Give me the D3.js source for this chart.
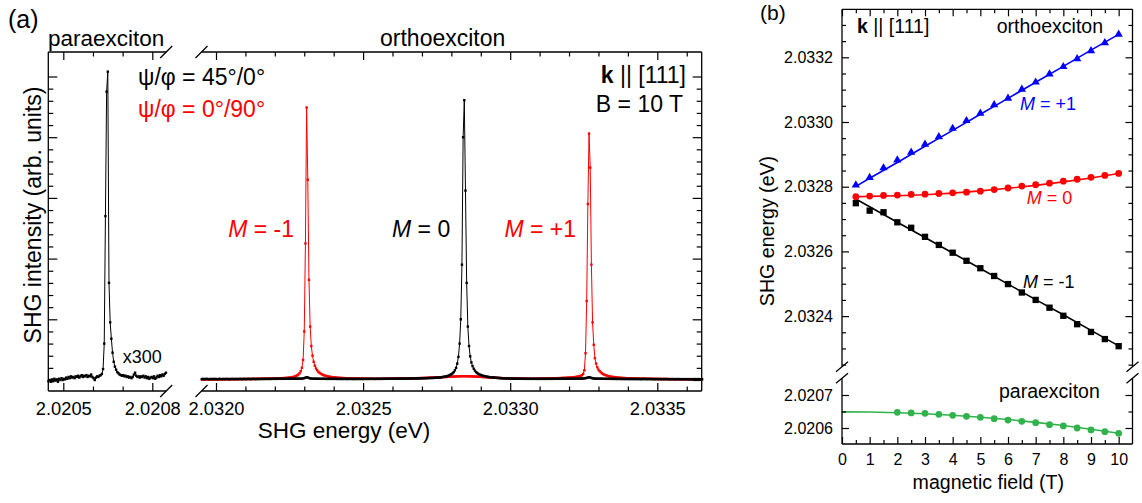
<!DOCTYPE html>
<html>
<head>
<meta charset="utf-8">
<script src="https://cdn.jsdelivr.net/npm/d3@7"></script>
<style>
  html, body { margin: 0; padding: 0; background: #fff; }
  svg { display: block; }
  text { font-family: "Liberation Sans", Arial, Helvetica, sans-serif; }
</style>
</head>
<body>
<svg id="fig" width="1142" height="503"></svg>
<script>
// ---------------- (a) SHG spectra at B = 10 T ----------------
// Orthoexciton spectra, sampled on a uniform energy grid (eV)
const orthoStartEV = 2.031952;
const orthoStepEV = 0.000004;
// psi/phi = 45°/0° (black)
const orthoSpec45 = [
  0.015,0.018,0.014,0.016,0.019,0.015,0.013,0.017,0.016,0.014,
  0.018,0.015,0.017,0.013,0.016,0.019,0.015,0.014,0.017,0.016,
  0.015,0.018,0.016,0.014,0.017,0.015,0.019,0.016,0.014,0.017,
  0.016,0.015,0.018,0.017,0.014,0.016,0.019,0.015,0.017,0.016,
  0.018,0.016,0.015,0.017,0.019,0.016,0.015,0.018,0.017,0.016,
  0.017,0.019,0.016,0.018,0.017,0.019,0.018,0.017,0.019,0.018,
  0.018,0.02,0.019,0.018,0.02,0.019,0.021,0.02,0.019,0.021,
  0.02,0.021,0.02,0.022,0.021,0.02,0.022,0.021,0.022,0.021,
  0.022,0.021,0.022,0.023,0.022,0.024,0.026,0.031,0.038,0.045,
  0.041,0.033,0.027,0.024,0.022,0.021,0.022,0.021,0.02,0.021,
  0.02,0.019,0.021,0.02,0.019,0.02,0.018,0.019,0.02,0.018,
  0.019,0.018,0.02,0.019,0.018,0.017,0.019,0.018,0.017,0.018,
  0.017,0.019,0.018,0.016,0.018,0.017,0.019,0.018,0.016,0.017,
  0.018,0.016,0.017,0.019,0.017,0.018,0.016,0.018,0.017,0.019,
  0.018,0.017,0.019,0.018,0.02,0.018,0.019,0.017,0.019,0.018,
  0.02,0.019,0.018,0.02,0.019,0.021,0.019,0.02,0.021,0.02,
  0.021,0.02,0.022,0.021,0.02,0.022,0.021,0.023,0.022,0.021,
  0.023,0.022,0.024,0.023,0.022,0.024,0.025,0.024,0.025,0.026,
  0.025,0.026,0.027,0.026,0.028,0.027,0.029,0.028,0.03,0.029,
  0.031,0.03,0.032,0.031,0.033,0.034,0.033,0.035,0.036,0.037,
  0.039,0.04,0.042,0.044,0.047,0.05,0.053,0.057,0.062,0.068,
  0.075,0.085,0.095,0.11,0.13,0.16,0.2,0.27,0.38,0.6,
  1.0,1.9,4.0,4.61,3.12,1.6,0.88,0.56,0.39,0.29,
  0.23,0.185,0.155,0.13,0.115,0.1,0.09,0.082,0.075,0.069,
  0.064,0.06,0.056,0.052,0.049,0.046,0.044,0.042,0.04,0.038,
  0.036,0.035,0.033,0.032,0.031,0.03,0.029,0.028,0.027,0.026,
  0.025,0.025,0.024,0.023,0.023,0.022,0.022,0.021,0.021,0.021,
  0.02,0.021,0.02,0.019,0.02,0.019,0.02,0.018,0.019,0.02,
  0.019,0.018,0.02,0.019,0.018,0.019,0.02,0.018,0.019,0.018,
  0.02,0.019,0.018,0.019,0.02,0.019,0.018,0.02,0.019,0.02,
  0.019,0.02,0.021,0.02,0.019,0.021,0.02,0.021,0.02,0.022,
  0.021,0.02,0.022,0.021,0.022,0.021,0.022,0.023,0.022,0.023,
  0.022,0.023,0.024,0.023,0.025,0.027,0.03,0.035,0.041,0.046,
  0.042,0.034,0.028,0.025,0.023,0.022,0.023,0.022,0.021,0.022,
  0.021,0.02,0.021,0.02,0.019,0.02,0.019,0.02,0.018,0.019,
  0.018,0.019,0.017,0.018,0.019,0.017,0.018,0.016,0.018,0.017,
  0.016,0.018,0.017,0.015,0.017,0.016,0.018,0.015,0.017,0.016,
  0.015,0.017,0.016,0.014,0.016,0.015,0.017,0.016,0.014,0.016,
  0.015,0.017,0.014,0.016,0.015,0.013,0.016,0.015,0.014,0.016,
  0.015,0.013,0.016,0.014,0.015,0.016,0.014,0.013,0.015,0.014,
  0.016,0.014,0.013,0.015,0.014,0.016,0.013,0.015,0.014,0.013,
  0.015,0.014,0.013,0.015,0.014,0.012,0.015,0.013,0.014,0.015,
  0.013,0.014,0.015,0.013,0.014,0.013
];
// psi/phi = 0°/90° (red)
const orthoSpec090 = [
  0.008,0.01,0.009,0.011,0.01,0.009,0.011,0.01,0.012,0.01,
  0.011,0.01,0.012,0.011,0.01,0.012,0.011,0.013,0.012,0.011,
  0.013,0.012,0.013,0.012,0.014,0.013,0.012,0.014,0.013,0.015,
  0.014,0.013,0.015,0.014,0.016,0.015,0.014,0.016,0.015,0.017,
  0.016,0.017,0.016,0.018,0.017,0.018,0.019,0.018,0.019,0.02,
  0.019,0.02,0.021,0.02,0.021,0.022,0.021,0.022,0.023,0.023,
  0.024,0.024,0.025,0.026,0.026,0.027,0.028,0.029,0.03,0.031,
  0.032,0.033,0.035,0.036,0.038,0.04,0.043,0.047,0.052,0.058,
  0.066,0.076,0.09,0.11,0.145,0.2,0.33,0.8,2.25,4.49,
  3.3,1.65,0.88,0.56,0.4,0.3,0.235,0.19,0.16,0.135,
  0.118,0.104,0.093,0.084,0.076,0.07,0.064,0.059,0.055,0.052,
  0.049,0.046,0.044,0.042,0.04,0.038,0.036,0.035,0.034,0.033,
  0.032,0.031,0.03,0.029,0.028,0.028,0.027,0.026,0.026,0.025,
  0.025,0.024,0.024,0.023,0.023,0.022,0.022,0.022,0.021,0.021,
  0.021,0.02,0.021,0.02,0.02,0.019,0.02,0.019,0.02,0.019,
  0.019,0.02,0.019,0.02,0.019,0.02,0.021,0.02,0.021,0.02,
  0.021,0.022,0.021,0.022,0.022,0.023,0.022,0.023,0.024,0.023,
  0.024,0.024,0.025,0.025,0.026,0.026,0.027,0.027,0.028,0.028,
  0.029,0.029,0.03,0.03,0.031,0.031,0.032,0.033,0.033,0.034,
  0.035,0.035,0.036,0.037,0.038,0.038,0.039,0.04,0.041,0.042,
  0.043,0.044,0.045,0.046,0.047,0.048,0.049,0.05,0.051,0.052,
  0.053,0.054,0.055,0.056,0.057,0.058,0.059,0.06,0.06,0.061,
  0.062,0.062,0.063,0.063,0.063,0.062,0.062,0.061,0.06,0.06,
  0.059,0.058,0.057,0.056,0.055,0.054,0.053,0.052,0.05,0.049,
  0.048,0.047,0.045,0.044,0.043,0.042,0.04,0.039,0.038,0.037,
  0.036,0.035,0.034,0.033,0.032,0.031,0.03,0.03,0.029,0.028,
  0.028,0.027,0.026,0.026,0.025,0.025,0.024,0.024,0.023,0.023,
  0.023,0.022,0.022,0.022,0.021,0.021,0.021,0.021,0.02,0.02,
  0.02,0.021,0.02,0.021,0.021,0.022,0.021,0.022,0.022,0.023,
  0.023,0.023,0.024,0.024,0.025,0.025,0.026,0.026,0.027,0.028,
  0.028,0.029,0.03,0.031,0.031,0.032,0.033,0.034,0.035,0.036,
  0.037,0.038,0.039,0.041,0.042,0.044,0.046,0.048,0.051,0.054,
  0.058,0.063,0.07,0.08,0.1,0.16,0.44,1.3,2.9,4.06,
  3.5,1.9,0.95,0.58,0.36,0.27,0.21,0.17,0.145,0.125,
  0.11,0.098,0.088,0.08,0.073,0.067,0.062,0.058,0.054,0.051,
  0.048,0.046,0.043,0.041,0.039,0.037,0.036,0.034,0.033,0.032,
  0.031,0.03,0.029,0.028,0.027,0.027,0.026,0.025,0.025,0.024,
  0.024,0.023,0.023,0.022,0.022,0.021,0.021,0.021,0.02,0.02,
  0.02,0.019,0.019,0.019,0.018,0.018,0.018,0.017,0.017,0.017,
  0.016,0.016,0.016,0.016,0.015,0.015,0.015,0.015,0.014,0.014,
  0.014,0.014,0.014,0.013,0.013,0.013,0.013,0.013,0.012,0.012,
  0.012,0.012,0.012,0.012,0.011,0.011,0.011,0.011,0.011,0.011,
  0.011,0.01,0.01,0.01,0.01,0.01
];
// Paraexciton spectrum (x300), psi/phi = 45°/0°
const paraStartEV = 2.02045;
const paraStepEV = 0.000004;
const paraSpec = [
  -0.02,0.0,-0.03,0.01,-0.02,0.02,-0.01,0.01,-0.03,0.02,
  0.0,0.03,0.0,0.02,0.01,0.04,0.02,0.05,0.03,0.06,
  0.04,0.05,0.03,0.06,0.05,0.07,0.04,0.06,0.08,0.05,
  0.07,0.06,0.08,0.05,0.07,0.06,0.09,0.05,0.03,0.0,
  0.04,0.06,0.05,0.07,0.08,0.1,0.18,0.6,2.7,4.75,
  5.08,1.6,0.95,0.68,0.45,0.3,0.22,0.17,0.13,0.11,
  0.09,0.08,0.07,0.08,0.06,0.07,0.05,0.06,0.04,0.05,
  0.03,0.05,0.09,0.12,0.07,0.05,0.06,0.04,0.06,0.05,
  0.07,0.04,0.06,0.03,0.05,0.02,0.04,0.05,0.03,0.06,
  0.02,0.04,0.07,0.05,0.08,0.06,0.09,0.07,0.1,0.12
];

// tick values, panel (a)
const paraTicksMajor = [2.0205, 2.0208];
const paraTicksMinor = [2.0206, 2.0207];
const orthoTicksMajor = [2.0320, 2.0325, 2.0330, 2.0335];
const orthoTicksMinor = [2.0321, 2.0322, 2.0323, 2.0324, 2.0326, 2.0327, 2.0328, 2.0329,
                         2.0331, 2.0332, 2.0333, 2.0334, 2.0336];
const intensityTicksMajor = [0, 1, 2, 3, 4, 5];
const intensityTicksMinor = [0.2, 0.4, 0.6, 0.8, 1.2, 1.4, 1.6, 1.8, 2.2, 2.4, 2.6, 2.8,
                             3.2, 3.4, 3.6, 3.8, 4.2, 4.4, 4.6, 4.8];

// ---------------- (b) peak energies vs magnetic field ----------------
const fieldT = [0.5, 1, 1.5, 2, 2.5, 3, 3.5, 4, 4.5, 5, 5.5, 6, 6.5, 7, 7.5, 8, 8.5, 9, 9.5, 10];
const energyMplus1 = [2.032805, 2.032828, 2.032858, 2.032882, 2.032906, 2.032931, 2.032954,
  2.032980, 2.033004, 2.033027, 2.033053, 2.033073, 2.033101, 2.033123, 2.033148, 2.033171,
  2.033195, 2.033220, 2.033245, 2.033271];
const energyM0 = [2.032769, 2.032771, 2.032773, 2.032774, 2.032776, 2.032777, 2.032779,
  2.032781, 2.032783, 2.032786, 2.032791, 2.032796, 2.032802, 2.032806, 2.032811, 2.032817,
  2.032823, 2.032829, 2.032835, 2.032841];
const energyMminus1 = [2.032749, 2.032726, 2.032721, 2.032690, 2.032673, 2.032645, 2.032620,
  2.032596, 2.032571, 2.032548, 2.032524, 2.032499, 2.032473, 2.032450, 2.032426, 2.032401,
  2.032375, 2.032351, 2.032329, 2.032307];
const paraFieldT = [2, 2.5, 3, 3.5, 4, 4.5, 5, 5.5, 6, 6.5, 7, 7.5, 8, 8.5, 9, 9.5, 10];
const paraEnergy = [2.0206476, 2.0206455, 2.0206445, 2.0206415, 2.0206385, 2.0206355, 2.0206324,
  2.0206282, 2.0206242, 2.0206203, 2.0206161, 2.0206100, 2.0206061, 2.0206000, 2.0205940,
  2.0205890, 2.0205840];
// fitted curves
const fitFieldT = [0.5, 1, 2, 3, 4, 5, 6, 7, 8, 9, 10];
const fitMplus1 = [2.032801, 2.032826, 2.032875, 2.032925, 2.032974, 2.033024, 2.033073,
  2.033123, 2.033172, 2.033222, 2.033271];
const fitM0 = [2.032769, 2.032770, 2.032772, 2.032775, 2.032780, 2.032787, 2.032795,
  2.032804, 2.032815, 2.032827, 2.032841];
const fitMminus1 = [2.032762, 2.032738, 2.032690, 2.032643, 2.032595, 2.032547, 2.032499,
  2.032451, 2.032404, 2.032356, 2.032308];
const paraFitFieldT = [0, 1, 2, 3, 4, 5, 6, 7, 8, 9, 10];
const paraFit = [2.0206490, 2.0206483, 2.0206464, 2.0206432, 2.0206386, 2.0206328, 2.0206256,
  2.0206171, 2.0206074, 2.0205964, 2.0205840];

// tick values, panel (b)
const fieldTicksMajor = [0, 1, 2, 3, 4, 5, 6, 7, 8, 9, 10];
const fieldTicksMinor = [0.5, 1.5, 2.5, 3.5, 4.5, 5.5, 6.5, 7.5, 8.5, 9.5];
const orthoETicksMajor = [2.0324, 2.0326, 2.0328, 2.0330, 2.0332];
const orthoETicksMinor = [2.03225, 2.03230, 2.03235, 2.03245, 2.03250, 2.03255, 2.03265,
  2.03270, 2.03275, 2.03285, 2.03290, 2.03295, 2.03305, 2.03310, 2.03315, 2.03325, 2.03330];
const paraETicksMajor = [2.0206, 2.0207];
const paraETicksMinor = [2.02065];

// ---------------- drawing ----------------
const RED = "#ff0000", BLUE = "#0000ff", GREEN = "#2fb34a";
const FONT = '"Liberation Sans", Arial, Helvetica, sans-serif';
const svg = d3.select("#fig");

function axisTicks(g, axisFn, scale, values, size, fmt, pad, fontSize) {
  const ax = axisFn(scale).tickValues(values).tickSizeInner(size).tickSizeOuter(0)
    .tickPadding(pad || 3).tickFormat(fmt || (() => ""));
  g.call(ax);
  g.attr("font-family", FONT).attr("font-size", fontSize || 10);
  g.select(".domain").remove();
  g.selectAll(".tick line").attr("stroke", "#000").attr("stroke-width", 1.2);
  g.selectAll(".tick text").attr("fill", "#000");
}
function seg(x1, y1, x2, y2) {
  svg.append("line").attr("x1", x1).attr("y1", y1).attr("x2", x2).attr("y2", y2)
    .attr("stroke", "#000").attr("stroke-width", 1.3);
}
function label(x, y, str, opts = {}) {
  const t = svg.append("text").attr("x", x).attr("y", y)
    .attr("font-size", opts.size || 20).attr("fill", opts.color || "#000")
    .attr("text-anchor", opts.anchor || "start");
  if (str) t.text(str);
  if (opts.rotate) t.attr("transform", `rotate(${opts.rotate},${x},${y})`);
  return t;
}
function mLabel(x, y, rest, opts) {
  const t = label(x, y, "", opts);
  t.append("tspan").attr("font-style", "italic").text("M");
  t.append("tspan").text(rest);
}
function kLabel(x, y, opts) {
  const t = label(x, y, "", opts);
  t.append("tspan").attr("font-weight", "bold").text("k");
  t.append("tspan").text(" || [111]");
}

// ===== panel (a) =====
const A = { top: 52, bottom: 391, paraL: 48.3, paraR: 166.2, orthoL: 201.5, orthoR: 701.7 };
const yInt = d3.scaleLinear().domain([0, 5]).range([380, 76.5]);
const xPara = d3.scaleLinear().domain([2.0205, 2.0208]).range([63.3, 152.3]);
const xOrtho = d3.scaleLinear().domain([2.0320, 2.0335]).range([216, 657.3]);
const fmt4 = d3.format(".4f");

// spectra
function drawSpectrum(data, start, step, xs, color) {
  const pts = data.map((v, i) => [start + i * step, v]);
  const line = d3.line().x(d => xs(d[0])).y(d => yInt(d[1]));
  const g = svg.append("g");
  g.append("path").attr("d", line(pts)).attr("fill", "none").attr("stroke", color).attr("stroke-width", 1);
  g.selectAll("rect").data(pts).join("rect")
    .attr("x", d => xs(d[0]) - 1.2).attr("y", d => yInt(d[1]) - 1.2)
    .attr("width", 2.4).attr("height", 2.4).attr("fill", color);
}
drawSpectrum(orthoSpec090, orthoStartEV, orthoStepEV, xOrtho, RED);
drawSpectrum(orthoSpec45, orthoStartEV, orthoStepEV, xOrtho, "#000");
drawSpectrum(paraSpec, paraStartEV, paraStepEV, xPara, "#000");

// frame with axis breaks
seg(A.paraL, A.top, A.paraR, A.top);
seg(A.paraL, A.bottom, A.paraR, A.bottom);
seg(A.paraL, A.top, A.paraL, A.bottom);
seg(A.orthoL, A.top, A.orthoR, A.top);
seg(A.orthoL, A.bottom, A.orthoR, A.bottom);
seg(A.orthoR, A.top, A.orthoR, A.bottom);
[A.paraR, A.orthoL].forEach(x => {
  seg(x - 6, A.top + 6, x + 6, A.top - 6);
  seg(x - 6, A.bottom + 6, x + 6, A.bottom - 6);
});

// x ticks
axisTicks(svg.append("g").attr("transform", `translate(0,${A.bottom})`), d3.axisBottom, xPara, paraTicksMajor, -8, fmt4, 11.5, 18.3);
axisTicks(svg.append("g").attr("transform", `translate(0,${A.bottom})`), d3.axisBottom, xPara, paraTicksMinor, -4.5);
axisTicks(svg.append("g").attr("transform", `translate(0,${A.top})`), d3.axisTop, xPara, paraTicksMajor, -8);
axisTicks(svg.append("g").attr("transform", `translate(0,${A.top})`), d3.axisTop, xPara, paraTicksMinor, -4.5);
axisTicks(svg.append("g").attr("transform", `translate(0,${A.bottom})`), d3.axisBottom, xOrtho, orthoTicksMajor, -8, fmt4, 11.5, 18.3);
axisTicks(svg.append("g").attr("transform", `translate(0,${A.bottom})`), d3.axisBottom, xOrtho, orthoTicksMinor, -4.5);
axisTicks(svg.append("g").attr("transform", `translate(0,${A.top})`), d3.axisTop, xOrtho, orthoTicksMajor, -8);
axisTicks(svg.append("g").attr("transform", `translate(0,${A.top})`), d3.axisTop, xOrtho, orthoTicksMinor, -4.5);
// y ticks (no labels)
axisTicks(svg.append("g").attr("transform", `translate(${A.paraL},0)`), d3.axisLeft, yInt, intensityTicksMajor, -9);
axisTicks(svg.append("g").attr("transform", `translate(${A.paraL},0)`), d3.axisLeft, yInt, intensityTicksMinor, -5);
axisTicks(svg.append("g").attr("transform", `translate(${A.orthoR},0)`), d3.axisRight, yInt, intensityTicksMajor, -9);
axisTicks(svg.append("g").attr("transform", `translate(${A.orthoR},0)`), d3.axisRight, yInt, intensityTicksMinor, -5);

// texts
label(8, 28, "(a)", { size: 25 });
label(48, 46, "paraexciton", { size: 22.5 });
label(380, 46, "orthoexciton", { size: 23 });
label(138, 85, "ψ/φ = 45°/0°", { size: 23 });
label(138, 116.5, "ψ/φ = 0°/90°", { size: 23, color: RED });
kLabel(686, 83, { size: 23, anchor: "end" });
label(683, 111.5, "B = 10 T", { size: 23, anchor: "end" });
mLabel(294, 237, " = -1", { size: 23, color: RED, anchor: "end" });
mLabel(392, 237, " = 0", { size: 23 });
mLabel(576, 237, " = +1", { size: 23, color: RED, anchor: "end" });
label(122.7, 363, "x300", { size: 18 });
label(344, 438, "SHG energy (eV)", { size: 22.5, anchor: "middle" });
label(40.5, 215, "SHG intensity (arb. units)", { size: 23, anchor: "middle", rotate: -90 });

// ===== panel (b) =====
const B = { left: 842, right: 1132.5, top: 9.3, orthoBottom: 366.7, paraTop: 378.3, bottom: 444 };
const xField = d3.scaleLinear().domain([0, 10.5]).range([B.left, B.right]);
const yOrthoB = d3.scaleLinear().domain([2.0324, 2.0332]).range([316.1, 57.3]);
const yParaB = d3.scaleLinear().domain([2.0206, 2.0207]).range([428, 395]);

function fitLine(xsData, ysData, ys, color) {
  const line = d3.line().x((d, i) => xField(xsData[i])).y(d => ys(d));
  svg.append("path").attr("d", line(ysData)).attr("fill", "none")
    .attr("stroke", color).attr("stroke-width", 1.6);
}
function markers(xsData, ysData, ys, type, size, color) {
  const sym = d3.symbol(type, size);
  svg.append("g").selectAll("path").data(ysData).join("path")
    .attr("d", sym)
    .attr("transform", (d, i) => `translate(${xField(xsData[i])},${ys(d)})`)
    .attr("fill", color);
}
fitLine(fitFieldT, fitMplus1, yOrthoB, BLUE);
fitLine(fitFieldT, fitM0, yOrthoB, RED);
fitLine(fitFieldT, fitMminus1, yOrthoB, "#000");
fitLine(paraFitFieldT, paraFit, yParaB, GREEN);
markers(fieldT, energyMplus1, yOrthoB, d3.symbolTriangle, 30, BLUE);
markers(fieldT, energyM0, yOrthoB, d3.symbolCircle, 36, RED);
markers(fieldT, energyMminus1, yOrthoB, d3.symbolSquare, 40, "#000");
markers(paraFieldT, paraEnergy, yParaB, d3.symbolCircle, 36, GREEN);

// frame with axis breaks
seg(B.left, B.top, B.right, B.top);
seg(B.left, B.bottom, B.right, B.bottom);
[B.left, B.right].forEach(x => {
  seg(x, B.top, x, B.orthoBottom);
  seg(x, B.paraTop, x, B.bottom);
  seg(x - 6, B.orthoBottom + 5, x + 6, B.orthoBottom - 5);
  seg(x - 6, B.paraTop + 5, x + 6, B.paraTop - 5);
});

axisTicks(svg.append("g").attr("transform", `translate(0,${B.bottom})`), d3.axisBottom, xField, fieldTicksMajor, -7, d3.format("d"), 9.6, 16);
axisTicks(svg.append("g").attr("transform", `translate(0,${B.bottom})`), d3.axisBottom, xField, fieldTicksMinor, -4);
axisTicks(svg.append("g").attr("transform", `translate(0,${B.top})`), d3.axisTop, xField, fieldTicksMajor, -7);
axisTicks(svg.append("g").attr("transform", `translate(0,${B.top})`), d3.axisTop, xField, fieldTicksMinor, -4);
axisTicks(svg.append("g").attr("transform", `translate(${B.left},0)`), d3.axisLeft, yOrthoB, orthoETicksMajor, -7, fmt4, 9, 16);
axisTicks(svg.append("g").attr("transform", `translate(${B.left},0)`), d3.axisLeft, yOrthoB, orthoETicksMinor, -4);
axisTicks(svg.append("g").attr("transform", `translate(${B.right},0)`), d3.axisRight, yOrthoB, orthoETicksMajor, -7);
axisTicks(svg.append("g").attr("transform", `translate(${B.right},0)`), d3.axisRight, yOrthoB, orthoETicksMinor, -4);
axisTicks(svg.append("g").attr("transform", `translate(${B.left},0)`), d3.axisLeft, yParaB, paraETicksMajor, -7, fmt4, 9, 16);
axisTicks(svg.append("g").attr("transform", `translate(${B.left},0)`), d3.axisLeft, yParaB, paraETicksMinor, -4);
axisTicks(svg.append("g").attr("transform", `translate(${B.right},0)`), d3.axisRight, yParaB, paraETicksMajor, -7);
axisTicks(svg.append("g").attr("transform", `translate(${B.right},0)`), d3.axisRight, yParaB, paraETicksMinor, -4);

label(760, 20, "(b)", { size: 21 });
kLabel(857, 33, { size: 19.5 });
label(1103, 33, "orthoexciton", { size: 19.5, anchor: "end" });
mLabel(1020, 110, " = +1", { size: 18, color: BLUE });
mLabel(1026.7, 204.3, " = 0", { size: 18, color: RED });
mLabel(1023, 287.7, " = -1", { size: 18 });
label(999, 398, "paraexciton", { size: 19.5 });
label(988.3, 489, "magnetic field (T)", { size: 19.6, anchor: "middle" });
label(774, 231, "SHG energy (eV)", { size: 19.6, anchor: "middle", rotate: -90 });
</script>
</body>
</html>
